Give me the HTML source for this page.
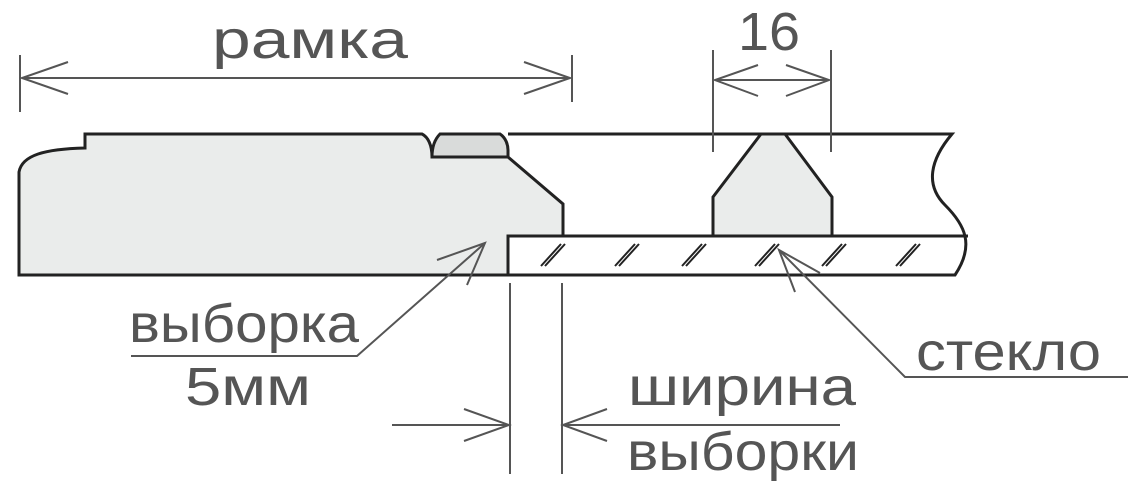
<!DOCTYPE html>
<html><head><meta charset="utf-8"><style>html,body{margin:0;padding:0;background:#fff}svg{display:block}</style></head>
<body>
<svg width="1136" height="495" viewBox="0 0 1136 495" xmlns="http://www.w3.org/2000/svg">
<g font-family="'Liberation Sans','DejaVu Sans',sans-serif" fill="#555" font-size="54">
<text x="212" y="58" textLength="196" lengthAdjust="spacingAndGlyphs">рамка</text>
<text x="738" y="50" textLength="62" lengthAdjust="spacingAndGlyphs">16</text>
<text x="129" y="342" textLength="230" lengthAdjust="spacingAndGlyphs">выборка</text>
<text x="185" y="405" textLength="126" lengthAdjust="spacingAndGlyphs">5мм</text>
<text x="628" y="405" textLength="228" lengthAdjust="spacingAndGlyphs">ширина</text>
<text x="627" y="470" textLength="232" lengthAdjust="spacingAndGlyphs">выборки</text>
<text x="916" y="370" textLength="185" lengthAdjust="spacingAndGlyphs">стекло</text>
</g>
<!-- frame profile -->
<path d="M19,275 L19,172 C22,155 45,149 85,148 L85,134 L422,134 C428,137 432,145 432,157 L508,157 L563,204 L563,236 L508,236 L508,275 Z" fill="#eaeceb" stroke="#222" stroke-width="3"/>
<path d="M432,157 C432,145 436,138 440,134 L500,134 C506,138 508,145 508,150 L508,157 Z" fill="#d9dbda" stroke="#222" stroke-width="3"/>
<!-- top line and break -->
<path d="M508,134 L952,134 C930,160 925,185 945,205 C965,225 975,245 955,275 L508,275" fill="none" stroke="#222" stroke-width="3"/>
<line x1="508" y1="236" x2="968" y2="236" stroke="#222" stroke-width="3"/>
<line x1="508" y1="236" x2="508" y2="275" stroke="#222" stroke-width="3"/>
<!-- spacer -->
<path d="M713,236 L713,197 L761,134 L785,134 L832,197 L832,236 Z" fill="#eaeceb" stroke="#222" stroke-width="3"/>
<!-- hatches -->
<g stroke="#222" stroke-width="2">
<path d="M541,266 L561,244 M545,266 L565,244"/>
<path d="M615,266 L635,244 M619,266 L639,244"/>
<path d="M682,266 L702,244 M686,266 L706,244"/>
<path d="M755,266 L775,244 M759,266 L779,244"/>
<path d="M822,266 L842,244 M826,266 L846,244"/>
<path d="M896,266 L916,244 M900,266 L920,244"/>
</g>
<!-- dimension lines -->
<g stroke="#555" stroke-width="2" fill="none">
<line x1="20" y1="55" x2="20" y2="112"/>
<line x1="572" y1="55" x2="572" y2="102"/>
<line x1="22" y1="78" x2="570" y2="78"/>
<path d="M68,62 L22,78 L68,94"/><path d="M524,62 L570,78 L524,94"/>
<line x1="713" y1="50" x2="713" y2="152"/>
<line x1="831" y1="50" x2="831" y2="152"/>
<line x1="715" y1="80" x2="829" y2="80"/>
<path d="M758,65 L715,80 L758,96"/><path d="M786,65 L829,80 L786,96"/>
<line x1="510" y1="283" x2="510" y2="474"/>
<line x1="562" y1="283" x2="562" y2="474"/>
<line x1="392" y1="425" x2="509" y2="425"/>
<path d="M464,409 L509,425 L464,441"/>
<line x1="563" y1="425" x2="840" y2="425"/>
<path d="M607,409 L563,425 L607,441"/>
<!-- выборка leader -->
<path d="M131,356 L357,356 L485,243"/>
<path d="M437,260 L485,243 L467,285"/>
<!-- стекло leader -->
<path d="M1128,377 L905,377 L779,250"/>
<path d="M820,273 L779,250 L795,292"/>
</g>
</svg>
</body></html>
